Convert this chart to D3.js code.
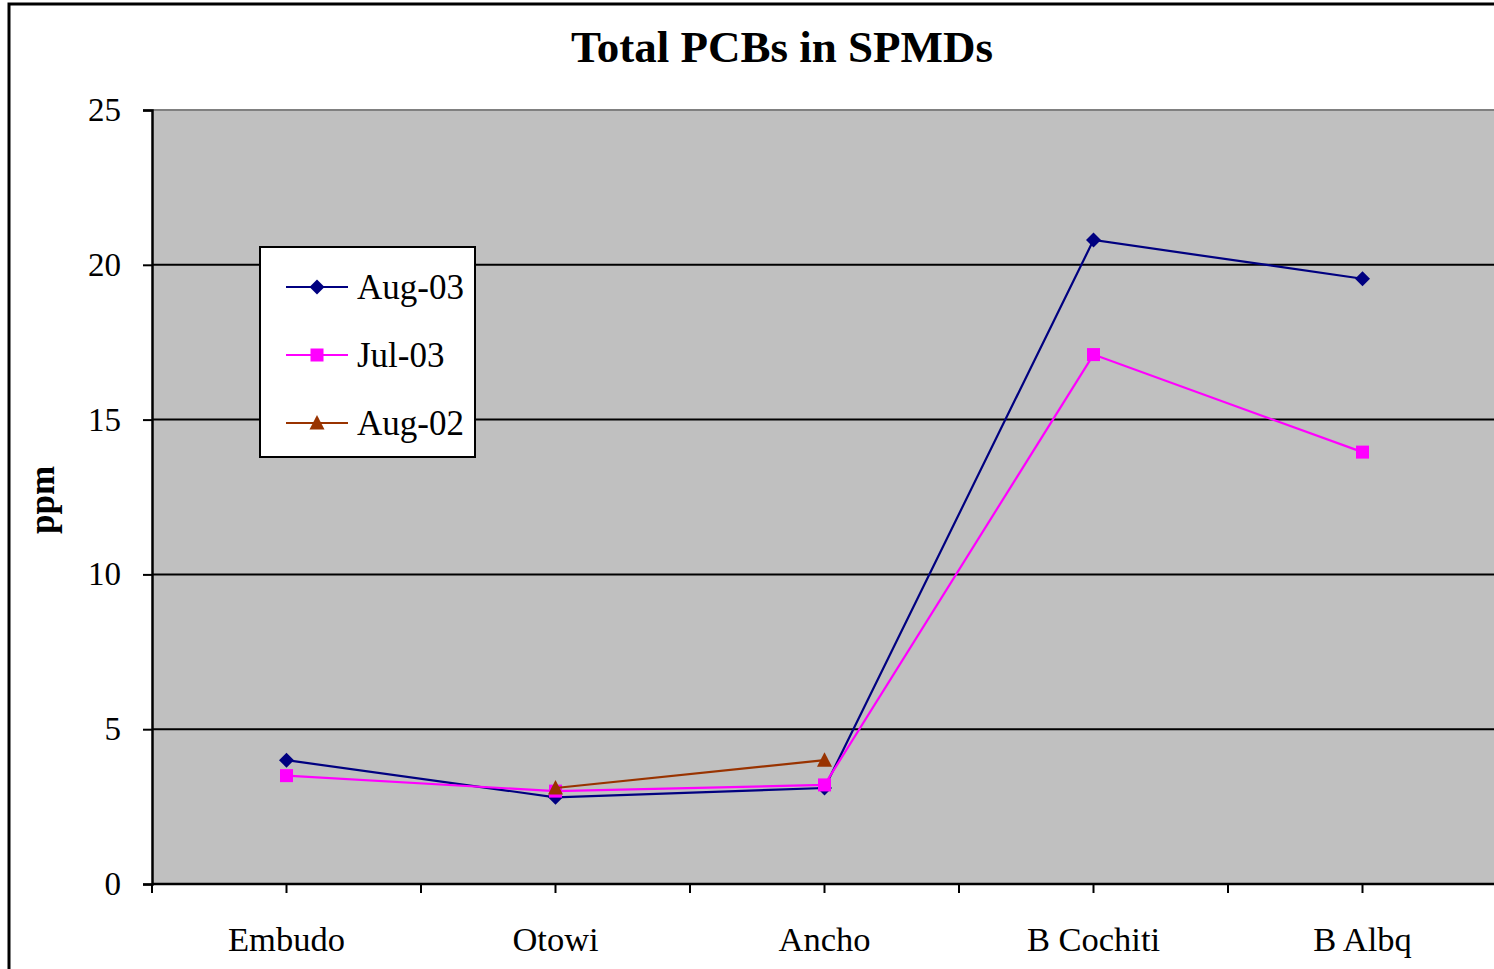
<!DOCTYPE html>
<html>
<head>
<meta charset="utf-8">
<script src="https://cdn.jsdelivr.net/npm/d3@7"></script>
<style>
  body { margin: 0; background: #fff; }
  svg { display: block; font-family: "Liberation Serif", "Times New Roman", serif; }
</style>
</head>
<body>
<div id="plot"></div>
<script>
// Data
const sites = ["Embudo", "Otowi", "Ancho", "B Cochiti", "B Albq"];
const aug03 = [4.0, 2.8, 3.1, 20.8, 19.55];
const jul03 = [3.5, 3.0, 3.2, 17.1, 13.95];
const aug02 = [null, 3.1, 4.0, null, null];
const yTicks = [0, 5, 10, 15, 20, 25];

const series = [
  { name: "Aug-03", values: aug03, color: "#000080", shape: "diamond" },
  { name: "Jul-03", values: jul03, color: "#FF00FF", shape: "square" },
  { name: "Aug-02", values: aug02, color: "#993300", shape: "triangle" }
];

const W = 1494, H = 969;
const plot = { left: 152, top: 110, right: 1497, bottom: 884 };

const svg = d3.select("#plot").append("svg")
  .attr("width", W)
  .attr("height", H);

// outer chart border
svg.append("rect")
  .attr("x", 9).attr("y", 4)
  .attr("width", 1560).attr("height", 1000)
  .attr("fill", "white")
  .attr("stroke", "black")
  .attr("stroke-width", 3);

// scales
const x = d3.scaleBand().domain(sites).range([plot.left, plot.right]);
const xc = d => x(d) + x.bandwidth() / 2;
const y = d3.scaleLinear().domain([0, 25]).range([plot.bottom, plot.top]);

// plot area
svg.append("rect")
  .attr("x", plot.left).attr("y", plot.top)
  .attr("width", plot.right - plot.left).attr("height", plot.bottom - plot.top)
  .attr("fill", "#C0C0C0");

svg.append("line")
  .attr("x1", plot.left).attr("x2", plot.right)
  .attr("y1", plot.top).attr("y2", plot.top)
  .attr("stroke", "#808080").attr("stroke-width", 2);

// gridlines
svg.append("g").selectAll("line")
  .data(yTicks.filter(t => t > 0 && t < 25))
  .join("line")
  .attr("x1", plot.left).attr("x2", plot.right)
  .attr("y1", d => y(d)).attr("y2", d => y(d))
  .attr("stroke", "black").attr("stroke-width", 2);

// y axis
const yAxis = svg.append("g")
  .attr("transform", `translate(${plot.left},0)`)
  .call(d3.axisLeft(y).tickValues(yTicks).tickSize(9).tickPadding(22));
yAxis.select(".domain").attr("stroke", "black").attr("stroke-width", 2.5);
yAxis.selectAll(".tick line").attr("stroke", "black").attr("stroke-width", 2);
yAxis.selectAll("text")
  .attr("font-family", "Liberation Serif, serif")
  .attr("font-size", 33).attr("fill", "black");

// x axis: ticks every half category
const tickX = d3.scaleLinear().domain([0, 10]).range([plot.left, plot.right]);
svg.append("line")
  .attr("x1", plot.left).attr("x2", plot.right)
  .attr("y1", plot.bottom).attr("y2", plot.bottom)
  .attr("stroke", "black").attr("stroke-width", 2.5);
svg.append("g").selectAll("line")
  .data(d3.range(0, 11))
  .join("line")
  .attr("x1", d => tickX(d)).attr("x2", d => tickX(d))
  .attr("y1", plot.bottom).attr("y2", plot.bottom + 9)
  .attr("stroke", "black").attr("stroke-width", 2);

svg.append("g").selectAll("text")
  .data(sites)
  .join("text")
  .attr("x", d => xc(d))
  .attr("y", 951)
  .attr("text-anchor", "middle")
  .attr("font-size", 34.5)
  .text(d => d);

// title
svg.append("text")
  .attr("x", 782).attr("y", 62)
  .attr("text-anchor", "middle")
  .attr("font-size", 45)
  .attr("font-weight", "bold")
  .text("Total PCBs in SPMDs");

// y axis title
svg.append("text")
  .attr("transform", "translate(54,500) rotate(-90)")
  .attr("text-anchor", "middle")
  .attr("font-size", 35)
  .attr("font-weight", "bold")
  .text("ppm");

// markers
function marker(g, shape, color) {
  if (shape === "diamond") {
    g.append("path").attr("d", "M0,-7.5L7.5,0L0,7.5L-7.5,0Z").attr("fill", color);
  } else if (shape === "square") {
    g.append("rect").attr("x", -6.5).attr("y", -6.5).attr("width", 13).attr("height", 13).attr("fill", color);
  } else {
    g.append("path").attr("d", "M0,-8L7.5,6.5L-7.5,6.5Z").attr("fill", color);
  }
}

const line = d3.line()
  .defined(d => d.v != null)
  .x(d => xc(d.site))
  .y(d => y(d.v));

series.forEach(s => {
  const pts = sites.map((site, i) => ({ site, v: s.values[i] }));
  svg.append("path")
    .datum(pts)
    .attr("d", line)
    .attr("fill", "none")
    .attr("stroke", s.color)
    .attr("stroke-width", 2.2);
  pts.filter(p => p.v != null).forEach(p => {
    const g = svg.append("g").attr("transform", `translate(${xc(p.site)},${y(p.v)})`);
    marker(g, s.shape, s.color);
  });
});

// legend
const legend = svg.append("g").attr("transform", "translate(260,247)");
legend.append("rect")
  .attr("width", 215).attr("height", 210)
  .attr("fill", "white").attr("stroke", "black").attr("stroke-width", 2);
series.forEach((s, i) => {
  const ly = 40 + i * 68;
  const g = legend.append("g").attr("transform", `translate(0,${ly})`);
  g.append("line")
    .attr("x1", 26).attr("x2", 88).attr("y1", 0).attr("y2", 0)
    .attr("stroke", s.color).attr("stroke-width", 2.2);
  const m = g.append("g").attr("transform", "translate(57,0)");
  marker(m, s.shape, s.color);
  g.append("text")
    .attr("x", 97).attr("y", 12)
    .attr("font-size", 35)
    .text(s.name);
});
</script>
</body>
</html>
